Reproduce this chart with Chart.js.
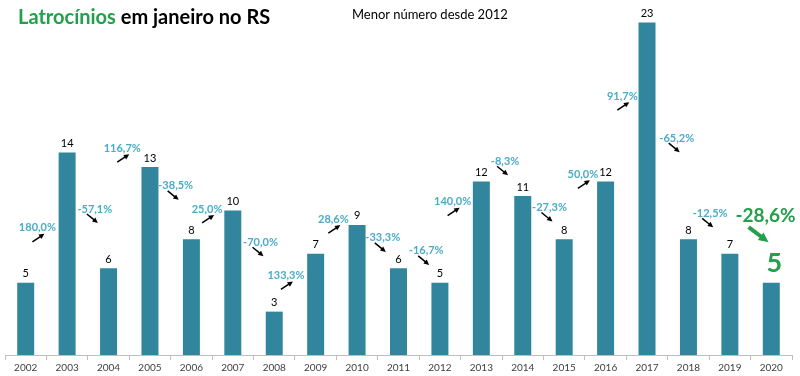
<!DOCTYPE html>
<html>
<head>
<meta charset="utf-8">
<script src="https://cdn.jsdelivr.net/npm/chart.js@4"></script>
<style>
  body { margin: 0; background: #fff; }
  #wrap { position: relative; width: 800px; height: 376px; }
  #titulo { position: absolute; left: 18px; top: 4px; font: bold 20px Lato, sans-serif; color: #000; }
  #titulo span { color: #22A04B; }
  #sub { position: absolute; left: 352px; top: 6px; font: 13px Lato, sans-serif; color: #000; }
</style>
</head>
<body>
<div id="wrap">
  <canvas id="barChart"></canvas>
  <div id="titulo"><span>Latrocínios</span> em janeiro no RS</div>
  <div id="sub">Menor número desde 2012</div>
</div>
<script>
const anos = ['2002', '2003', '2004', '2005', '2006', '2007', '2008', '2009', '2010', '2011',
    '2012', '2013', '2014', '2015', '2016', '2017', '2018', '2019', '2020'];
const casos = [5, 14, 6, 13, 8, 10, 3, 7, 9, 6, 5, 12, 11, 8, 12, 23, 8, 7, 5];
const variacao = ['180,0%', '-57,1%', '116,7%', '-38,5%', '25,0%', '-70,0%', '133,3%', '28,6%', '-33,3%',
    '-16,7%', '140,0%', '-8,3%', '-27,3%', '50,0%', '91,7%', '-65,2%', '-12,5%', '-28,6%'];

// where each % label sits: [shift from the gap between bars in px, height in axis units]
const posVariacao = [[-9, 8.8], [7, 10.1], [-7, 14.3], [5, 11.7], [-5, 10.1], [7, 7.8], [-9, 5.5],
    [-3, 9.4], [5, 8.1], [7, 7.2], [-8, 10.6], [3, 13.4], [6, 10.2], [-2, 12.5], [-4, 17.9],
    [9, 15.0], [1, 9.8], [15, 9.6]];

const verde = '#22A04B';

function seta(ctx, x1, y1, x2, y2, cor, larg, cab) {
    const ang = Math.atan2(y2 - y1, x2 - x1);
    ctx.save();
    ctx.strokeStyle = cor;
    ctx.fillStyle = cor;
    ctx.lineWidth = larg;
    ctx.beginPath();
    ctx.moveTo(x1, y1);
    ctx.lineTo(x2 - Math.cos(ang) * cab * 0.6, y2 - Math.sin(ang) * cab * 0.6);
    ctx.stroke();
    ctx.beginPath();
    ctx.moveTo(x2, y2);
    ctx.lineTo(x2 - cab * Math.cos(ang - 0.45), y2 - cab * Math.sin(ang - 0.45));
    ctx.lineTo(x2 - cab * Math.cos(ang + 0.45), y2 - cab * Math.sin(ang + 0.45));
    ctx.closePath();
    ctx.fill();
    ctx.restore();
}

const rotulos = {
    id: 'rotulos',
    afterDatasetsDraw(chart) {
        const ctx = chart.ctx;
        const x = chart.scales.x;
        const y = chart.scales.y;
        const barras = chart.getDatasetMeta(0).data;
        ctx.save();
        ctx.textAlign = 'center';
        ctx.textBaseline = 'middle';

        // valores em cima das barras
        barras.forEach((b, i) => {
            if (i === barras.length - 1) {
                ctx.fillStyle = verde;
                ctx.font = 'bold 27px Lato';
                ctx.fillText(String(casos[i]), b.x + 3, b.y - 19);
            } else {
                ctx.fillStyle = '#000';
                ctx.font = '11px Lato';
                ctx.fillText(String(casos[i]), b.x, b.y - 9);
            }
        });

        // variações com setas
        variacao.forEach((txt, k) => {
            const i = k + 1;
            const meio = (x.getPixelForValue(i - 1) + x.getPixelForValue(i)) / 2;
            const cx = meio + posVariacao[k][0];
            const cy = y.getPixelForValue(posVariacao[k][1]);
            const sobe = casos[i] > casos[i - 1];
            if (i === casos.length - 1) {
                ctx.fillStyle = verde;
                ctx.font = 'bold 19px Lato';
                ctx.fillText(txt, cx, cy);
                seta(ctx, cx - 17, cy + 11, cx + 3, cy + 26, verde, 4, 11);
                return;
            }
            ctx.fillStyle = '#4BACC6';
            ctx.font = 'bold 11px Lato';
            ctx.fillText(txt, cx, cy);
            if (sobe) {
                seta(ctx, cx - 5, cy + 14, cx + 7, cy + 6, '#000', 1.5, 6);
            } else {
                seta(ctx, cx - 8, cy + 5, cx + 3, cy + 14, '#000', 1.5, 6);
            }
        });
        ctx.restore();
    }
};

const ctx = document.getElementById('barChart').getContext('2d');
new Chart(ctx, {
    type: 'bar',
    data: {
        labels: anos,
        datasets: [{
            label: 'Latrocínios',
            data: casos,
            backgroundColor: '#31859C',
            barPercentage: 0.41,
            categoryPercentage: 1
        }]
    },
    options: {
        responsive: true,
        maintainAspectRatio: false,
        animation: false,
        layout: { padding: { top: 8, left: 5, right: 8, bottom: 0 } },
        plugins: {
            legend: { display: false },
            tooltip: { enabled: false }
        },
        scales: {
            x: {
                grid: { offset: true, drawOnChartArea: false, tickLength: 5, color: '#bfbfbf' },
                border: { color: '#bfbfbf' },
                ticks: { font: { family: 'Lato', size: 10 }, color: '#404040', padding: 2, maxRotation: 0 }
            },
            y: {
                display: false,
                min: 0,
                max: 24
            }
        }
    },
    plugins: [rotulos]
});
</script>
</body>
</html>
